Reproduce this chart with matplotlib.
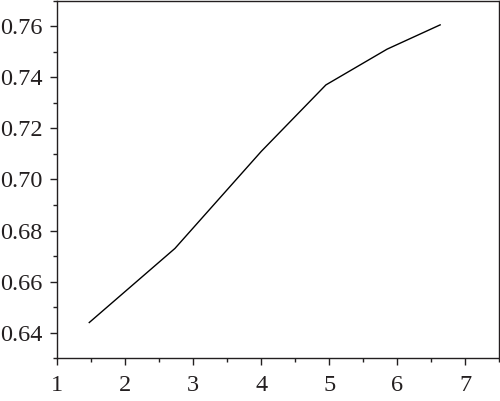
import numpy as np
import matplotlib
matplotlib.use("Agg")
from matplotlib import pyplot as plt
from matplotlib.ticker import MultipleLocator

# values
x_vals = [1.47, 2.73, 4.0, 4.95, 5.85, 6.63]
y_vals = [0.644, 0.673, 0.711, 0.737, 0.751, 0.7605]

x_ticks = [1, 2, 3, 4, 5, 6, 7]
y_ticks = [0.64, 0.66, 0.68, 0.70, 0.72, 0.74, 0.76]

plt.rcParams['font.family'] = ['Liberation Serif', 'DejaVu Serif']

fig = plt.figure(figsize=(5, 4.01), dpi=100)
ax = fig.add_axes([0.1146, 0.1065, 0.884, 0.892])

ax.plot(x_vals, y_vals, color='black', lw=1.0)

ax.set_xlim(1, 7.5)
ax.set_ylim(0.63, 0.77)
ax.set_xticks(x_ticks)
ax.set_yticks(y_ticks)
ax.set_xticklabels([str(t) for t in x_ticks])
ax.set_yticklabels(['%.2f' % t for t in y_ticks])
ax.xaxis.set_minor_locator(MultipleLocator(0.5))
ax.yaxis.set_minor_locator(MultipleLocator(0.01))

ax.tick_params(which='major', direction='out', length=5.2, width=1.0,
               labelsize=17.5, colors='#231f20')
ax.tick_params(which='minor', direction='out', length=3.2, width=1.0,
               colors='#231f20')
ax.tick_params(axis='x', which='major', pad=7)
ax.tick_params(axis='y', which='major', pad=5.5)
for s in ax.spines.values():
    s.set_linewidth(1.0)
    s.set_color('#231f20')

fig.savefig('out.png', dpi=100)
